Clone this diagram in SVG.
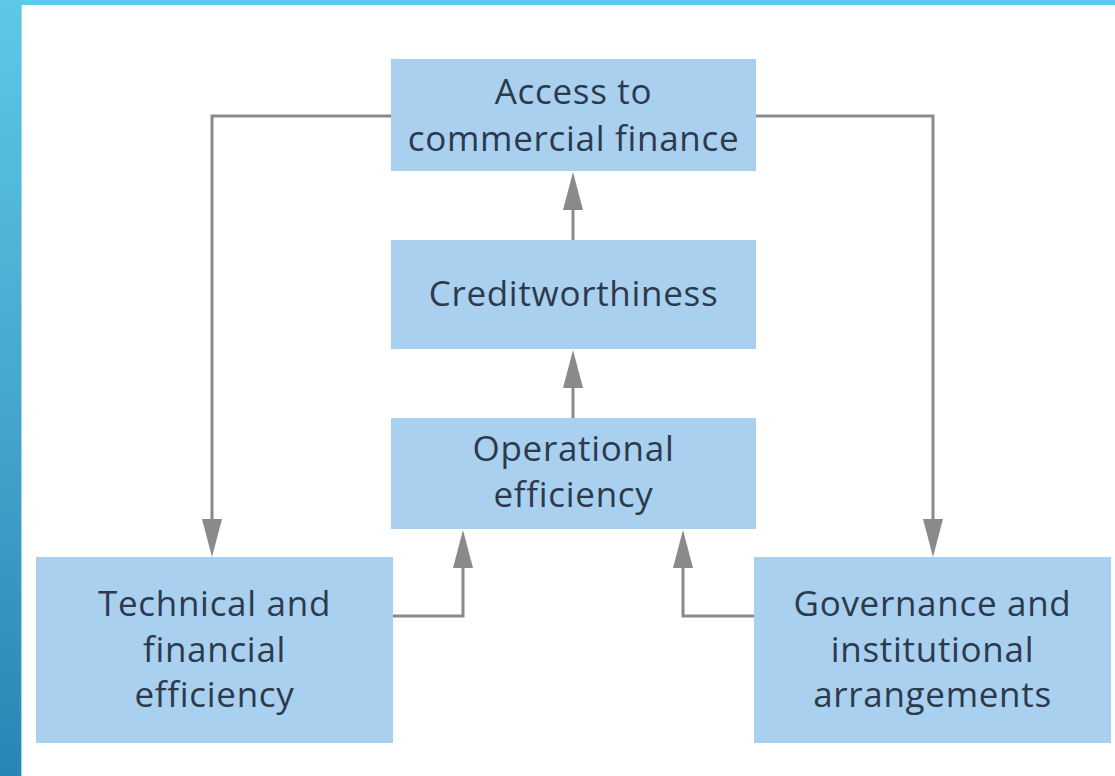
<svg xmlns="http://www.w3.org/2000/svg" width="1115" height="776" viewBox="0 0 1115 776">
<defs>
<linearGradient id="side" x1="0" y1="0" x2="0" y2="1">
<stop offset="0" stop-color="#5cc8e6"/>
<stop offset="0.5" stop-color="#45a8cf"/>
<stop offset="1" stop-color="#2985b6"/>
</linearGradient>
<style>
.box{fill:#aad0ef;}
.t{font-family:"Open Sans","Noto Sans",sans-serif;font-size:35px;letter-spacing:0.7px;fill:#2b3a4c;text-anchor:middle;}
.c{fill:none;stroke:#8a8a8c;stroke-width:3;}
.ah{fill:#8a8a8c;}
</style>
</defs>
<rect x="0" y="0" width="1115" height="776" fill="#ffffff"/>
<rect x="0" y="0" width="1115" height="5" fill="#5ccbe8"/>
<rect x="0" y="0" width="21" height="776" fill="url(#side)"/>
<rect x="21" y="5" width="1" height="771" fill="#9fd8ee"/>

<g id="connectors">
<path class="c" d="M391,116 H212 V520"/>
<path class="ah" d="M202,519 L222,519 L212,557 Z"/>
<path class="c" d="M756,116 H933 V520"/>
<path class="ah" d="M923,519 L943,519 L933,557 Z"/>
<path class="c" d="M573,240 V208"/>
<path class="ah" d="M563,210 L583,210 L573,172 Z"/>
<path class="c" d="M573,418 V387"/>
<path class="ah" d="M563,388 L583,388 L573,350 Z"/>
<path class="c" d="M393,616 H463 V566"/>
<path class="ah" d="M453,568 L473,568 L463,530 Z"/>
<path class="c" d="M754,616 H683 V566"/>
<path class="ah" d="M673,568 L693,568 L683,530 Z"/>
</g>

<g id="access">
<rect class="box" x="391" y="59" width="365" height="112"/>
<text class="t" x="573.5" y="104">Access to</text>
<text class="t" x="573.5" y="151">commercial finance</text>
</g>
<g id="credit">
<rect class="box" x="391" y="240" width="365" height="109"/>
<text class="t" x="573.5" y="306">Creditworthiness</text>
</g>
<g id="operational">
<rect class="box" x="391" y="418" width="365" height="111"/>
<text class="t" x="573.5" y="461">Operational</text>
<text class="t" x="573.5" y="507">efficiency</text>
</g>
<g id="technical">
<rect class="box" x="36" y="557" width="357" height="186"/>
<text class="t" x="214.5" y="616">Technical and</text>
<text class="t" x="214.5" y="662">financial</text>
<text class="t" x="214.5" y="707">efficiency</text>
</g>
<g id="governance">
<rect class="box" x="754" y="557" width="357" height="186"/>
<text class="t" x="932.5" y="616">Governance and</text>
<text class="t" x="932.5" y="662">institutional</text>
<text class="t" x="932.5" y="707">arrangements</text>
</g>
</svg>
